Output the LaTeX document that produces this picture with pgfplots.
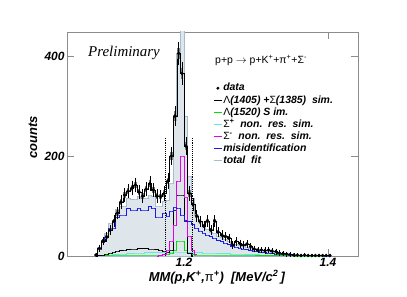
\documentclass[border=0pt]{standalone}
\usepackage{pgfplots}
\pgfplotsset{compat=1.18}
\usepackage{pgfplotstable}
\usepackage{fontspec}
\setmainfont{Liberation Sans}
\setsansfont{Liberation Sans}
\newfontfamily\timesf{Liberation Serif}

\definecolor{fitfill}{RGB}{222,229,235}
\definecolor{fitline}{RGB}{165,190,205}
\definecolor{misblue}{RGB}{25,25,235}
\definecolor{sigmag}{RGB}{230,0,230}
\definecolor{lamgreen}{RGB}{0,225,0}
\definecolor{sigcyan}{RGB}{100,230,230}
\definecolor{framegray}{RGB}{140,140,140}
\definecolor{datagray}{RGB}{125,125,125}

\pgfplotstableread{
c data blue cyan green black mag fit
1.0775 2 2 0 1 0 0 3
1.0825 15 14 1 1 1 0 17
1.0875 30 28 1 1 2 0 32
1.0925 38 38 2 1 4 0 45
1.0975 52 56 2 2 6 0 66
1.1025 70 56 3 2 8 0 69
1.1075 86 78 3 2 10 0 93
1.1125 108 82 4 2 11 0 99
1.1175 122 82 4 2 12 0 100
1.1225 130 95 5 2 13 0 115
1.1275 136 92 5 2 14 0 113
1.1325 142 92 6 2 14 0 114
1.1375 128 96 6 2 15 0 119
1.1425 120 92 6 2 15 0 115
1.1475 134 92 7 2 15 0 116
1.1525 145 99 7 2 14 0 122
1.1575 132 96 7 2 14 0 119
1.1625 120 78 7 2 13 0 100
1.1675 119 78 7 2 12 1 100
1.1725 125 86 8 3 10 3 110
1.1775 150 80 8 4 8 12 112
1.1825 200 90 8 6 12 30 146
1.1875 280 98 8 12 92 62 272
1.1925 405 96 8 30 122 150 406
1.1975 365 82 8 30 122 200 470
1.2025 220 69 8 12 72 118 279
1.2075 125 69 7 5 5 40 160
1.2125 103 63 7 3 0 12 115
1.2175 80 56 7 2 0 4 82
1.2225 69 50 7 2 0 2 68
1.2275 60 46 6 2 0 1 57
1.2325 70 42 6 2 0 1 53
1.2375 52 39 6 2 0 1 48
1.2425 70 36 6 2 0 1 46
1.2475 48 31 5 2 0 1 40
1.2525 42 29 5 2 0 1 37
1.2575 39 26 5 2 0 0 33
1.2625 36 23 5 2 0 0 30
1.2675 22 20 4 2 0 0 26
1.2725 29 18 4 2 0 0 24
1.2775 25 16 4 2 0 0 22
1.2825 22 14 4 2 0 0 20
1.2875 24 13 3 2 0 0 18
1.2925 19 11 3 2 0 0 16
1.2975 14 10 3 2 0 0 15
1.3025 12 9 3 1 0 0 13
1.3075 12 8 2 1 0 0 11
1.3125 11 7 2 1 0 0 10
1.3175 12 6 2 1 0 0 9
1.3225 10 5 2 1 0 0 8
1.3275 9 4 2 1 0 0 7
1.3325 6 4 1 1 0 0 6
1.3375 5 3 1 1 0 0 5
1.3425 4 3 1 1 0 0 5
1.3475 3 2 1 1 0 0 4
1.3525 2 2 1 1 0 0 4
1.3575 2 1 1 0 0 0 2
1.3625 1 1 0 0 0 0 1
1.3675 2 1 0 0 0 0 1
1.3725 1 1 0 0 0 0 1
1.3775 1 1 0 0 0 0 1
1.3825 1 1 0 0 0 0 1
1.3875 1 1 0 0 0 0 1
1.3925 1 1 0 0 0 0 1
1.3975 1 0 0 0 0 0 0
1.4025 1 0 0 0 0 0 0
}\histtab

\begin{document}
\begin{tikzpicture}
\begin{axis}[
  at={(0,0)}, anchor=south west,
  scale only axis, width=291bp, height=224bp,
  xmin=1.0375, xmax=1.4417, ymin=0, ymax=448,
  xtick={1.2,1.4}, xticklabels={1.2,1.4},
  ytick={0,200,400}, yticklabels={0,200,400},
  tick align=inside, major tick length=7bp,
  axis line style={framegray, line width=0.8pt},
  tick style={framegray, line width=0.8pt},
  ticklabel style={font=\fontsize{12}{14}\selectfont\bfseries\itshape},
  xticklabel style={yshift=1bp},
  yticklabel style={xshift=1bp},
  xlabel={MM(p,K\textsuperscript{+},{\upshape\mdseries π}\textsuperscript{+})\ \ [MeV/c\textsuperscript{2}\,]},
  ylabel={counts},
  xlabel style={at={(axis description cs:0.515,-0.094)}, anchor=center, font=\fontsize{13}{15}\selectfont\bfseries\itshape},
  ylabel style={at={(axis description cs:-0.117,0.531)}, anchor=center, font=\fontsize{13}{15}\selectfont\bfseries\itshape},
  legend style={at={(rel axis cs:0.502,0.777)}, anchor=north west, draw=none, fill=none,
    font=\fontsize{10.5}{12}\selectfont\bfseries\itshape, row sep=0bp, inner sep=0pt,
    nodes={inner sep=0.8bp, text height=8bp, text depth=2.5bp, anchor=west}},
  legend cell align=left,
  legend image code/.code={\draw[#1] (0bp,0bp) -- (8bp,0bp);},
]
\addplot[const plot mark mid, fill=fitfill, draw=fitline, line width=0.8pt, forget plot] table[x=c,y=fit]{\histtab} \closedcycle;
\addplot[const plot mark mid, sigcyan, line width=0.8pt, forget plot] table[x=c,y=cyan]{\histtab};
\addplot[const plot mark mid, lamgreen, line width=0.8pt, forget plot] table[x=c,y=green]{\histtab};
\addplot[const plot mark mid, black, line width=0.7pt, forget plot, restrict x to domain=1.07:1.2126] table[x=c,y=black]{\histtab};
\addplot[const plot mark mid, sigmag, line width=0.8pt, forget plot, restrict x to domain=1.16:1.222] table[x=c,y=mag]{\histtab};
\addplot[const plot mark mid, misblue, line width=0.8pt, forget plot] table[x=c,y=blue]{\histtab};
\addplot[black, densely dotted, line width=0.9pt, forget plot] coordinates {(1.1746,0) (1.1746,238)};
\addplot[black, densely dotted, line width=0.9pt, forget plot] coordinates {(1.2121,0) (1.2121,238)};
\addplot[const plot mark mid, black, line width=0.5pt, forget plot] table[x=c,y=data]{\histtab};
\addplot[draw=none, mark=none, forget plot, error bars/.cd, y dir=both, y explicit, error mark=none,
  error bar style={line width=2.4bp, draw=datagray}] table[x=c, y=data, y error expr={0.55*sqrt(\thisrow{data})}]{\histtab};
\addplot[only marks, mark=*, mark size=1.5bp, black, forget plot, error bars/.cd, y dir=both, y explicit,
  error bar style={line width=0.5pt, black}, error mark options={black, mark size=1.5bp, line width=0.5pt}]
  table[x=c, y=data, y error expr={sqrt(\thisrow{data})}]{\histtab};

\addlegendimage{legend image code/.code={\fill[black] (4bp,0bp) circle (1.3bp);}}
\addlegendentry{data}
\addlegendimage{black, line width=1.2pt}
\addlegendentry{{\upshape\mdseries Λ}(1405) +{\upshape\mdseries Σ}(1385)\ \ sim.}
\addlegendimage{lamgreen, line width=1.2pt}
\addlegendentry{{\upshape\mdseries Λ}(1520) S im.}
\addlegendimage{sigcyan, line width=1.2pt}
\addlegendentry{{\upshape\mdseries Σ}\textsuperscript{+}\ \ non.\ \ res.\ \ sim.}
\addlegendimage{sigmag, line width=1.2pt}
\addlegendentry{{\upshape\mdseries Σ}\textsuperscript{-}\ \ non.\ \ res.\ \ sim.}
\addlegendimage{misblue, line width=1.2pt}
\addlegendentry{misidentification}
\addlegendimage{fitline, line width=1.2pt}
\addlegendentry{total\ \ fit}

\node[anchor=center, font=\timesf\itshape\fontsize{15}{17}\selectfont] at (rel axis cs:0.196,0.906) {Preliminary};
\node[anchor=center, font=\fontsize{10.5}{12}\selectfont] at (rel axis cs:0.667,0.875) {p+p $\rightarrow$ p+K\textsuperscript{+}+π\textsuperscript{+}+Σ\textsuperscript{-}};
\node[anchor=west, inner sep=1bp, font=\fontsize{12}{14}\selectfont] at (rel axis cs:1,0.027) {×\,{\bfseries\itshape 10}\textsuperscript{\bfseries\itshape 3}};
\end{axis}
\pgfresetboundingbox
\path[use as bounding box] (-67bp,-41bp) rectangle (340bp,256bp);
\end{tikzpicture}
\end{document}
